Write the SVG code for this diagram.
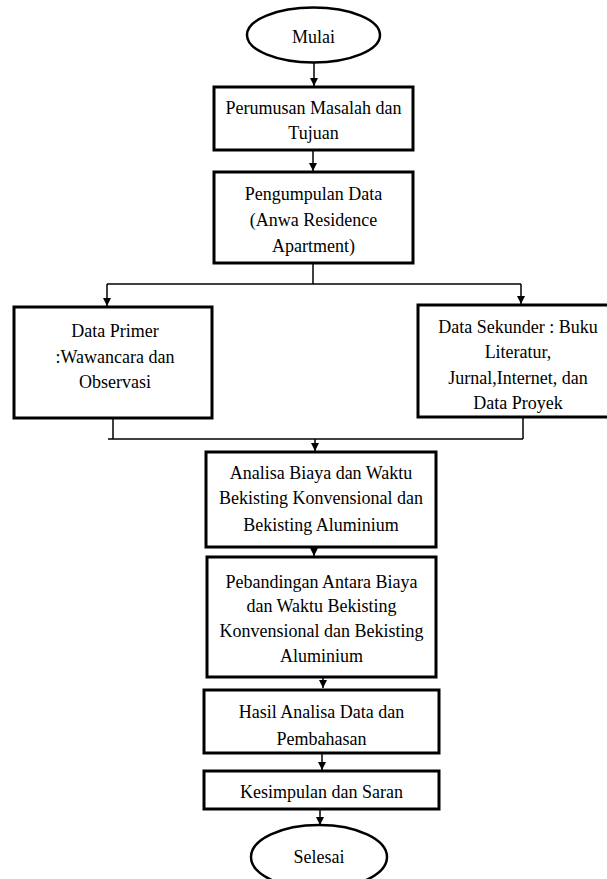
<svg xmlns="http://www.w3.org/2000/svg" width="607" height="879" viewBox="0 0 607 879">
<defs>
<marker id="ah" viewBox="0 0 10 10" refX="10" refY="5" markerWidth="8" markerHeight="8" markerUnits="userSpaceOnUse" orient="auto">
<path d="M0,0 L10,5 L0,10 z" fill="#000"/>
</marker>
<style>
.box{fill:#fff;stroke:#000;stroke-width:3}
.ell{fill:#fff;stroke:#000;stroke-width:2.5}
.t{font-family:"Liberation Serif","Times New Roman",serif;font-size:18px;fill:#000;text-anchor:middle}
.c{fill:none;stroke:#000;stroke-width:1.5}
.a{fill:none;stroke:#000;stroke-width:1.5;marker-end:url(#ah)}
</style>
</defs>
<rect width="607" height="879" fill="#fff"/>
<g id="connectors">
<line class="a" x1="314" y1="63" x2="314" y2="86"/>
<line class="a" x1="313" y1="150" x2="313" y2="171"/>
<polyline class="c" points="313,263 313,284"/>
<line class="c" x1="107" y1="284" x2="521" y2="284"/>
<line class="a" x1="107" y1="284" x2="107" y2="306"/>
<line class="a" x1="521" y1="284" x2="521" y2="304"/>
<line class="c" x1="113" y1="418" x2="113" y2="439"/>
<line class="c" x1="523" y1="417" x2="523" y2="439"/>
<line class="c" x1="108" y1="439" x2="523" y2="439"/>
<line class="a" x1="315" y1="439" x2="315" y2="451"/>
<line class="a" x1="314" y1="547" x2="314" y2="556"/>
<line class="a" x1="323" y1="677" x2="323" y2="688"/>
<line class="a" x1="322" y1="753" x2="322" y2="770"/>
<line class="a" x1="320" y1="809" x2="320" y2="825"/>
</g>
<g id="mulai">
<ellipse class="ell" cx="313.5" cy="35" rx="66.5" ry="27.5"/>
<text class="t" x="313.5" y="43">Mulai</text>
</g>
<g id="perumusan">
<rect class="box" x="214" y="87" width="199" height="63"/>
<text class="t" x="313.5" y="114">Perumusan Masalah dan</text>
<text class="t" x="313.5" y="139">Tujuan</text>
</g>
<g id="pengumpulan">
<rect class="box" x="214" y="172" width="199" height="91"/>
<text class="t" x="313.5" y="200">Pengumpulan Data</text>
<text class="t" x="313.5" y="226">(Anwa Residence</text>
<text class="t" x="313.5" y="252">Apartment)</text>
</g>
<g id="primer">
<rect class="box" x="14" y="307" width="198" height="111"/>
<text class="t" x="115" y="337">Data Primer </text>
<text class="t" x="115" y="363">:Wawancara dan</text>
<text class="t" x="115" y="388">Observasi</text>
</g>
<g id="sekunder">
<rect class="box" x="418" y="305" width="195" height="112"/>
<text class="t" x="518" y="333">Data Sekunder : Buku</text>
<text class="t" x="518" y="358">Literatur,</text>
<text class="t" x="518" y="384">Jurnal,Internet, dan</text>
<text class="t" x="518" y="409">Data Proyek</text>
</g>
<g id="analisa">
<rect class="box" x="206" y="452" width="230" height="95"/>
<text class="t" x="321" y="479">Analisa Biaya dan Waktu</text>
<text class="t" x="321" y="504">Bekisting Konvensional dan</text>
<text class="t" x="321" y="531">Bekisting Aluminium</text>
</g>
<g id="pebandingan">
<rect class="box" x="207" y="557" width="229" height="120"/>
<text class="t" x="321.5" y="588">Pebandingan Antara Biaya</text>
<text class="t" x="321.5" y="612">dan Waktu Bekisting</text>
<text class="t" x="321.5" y="637">Konvensional dan Bekisting</text>
<text class="t" x="321.5" y="662">Aluminium</text>
</g>
<g id="hasil">
<rect class="box" x="204" y="690" width="235" height="63"/>
<text class="t" x="321.5" y="718">Hasil Analisa Data dan</text>
<text class="t" x="321.5" y="745">Pembahasan</text>
</g>
<g id="kesimpulan">
<rect class="box" x="204" y="771" width="235" height="38"/>
<text class="t" x="321.5" y="798">Kesimpulan dan Saran</text>
</g>
<g id="selesai">
<ellipse class="ell" cx="319" cy="857" rx="68" ry="32"/>
<text class="t" x="319" y="863">Selesai</text>
</g>
</svg>
